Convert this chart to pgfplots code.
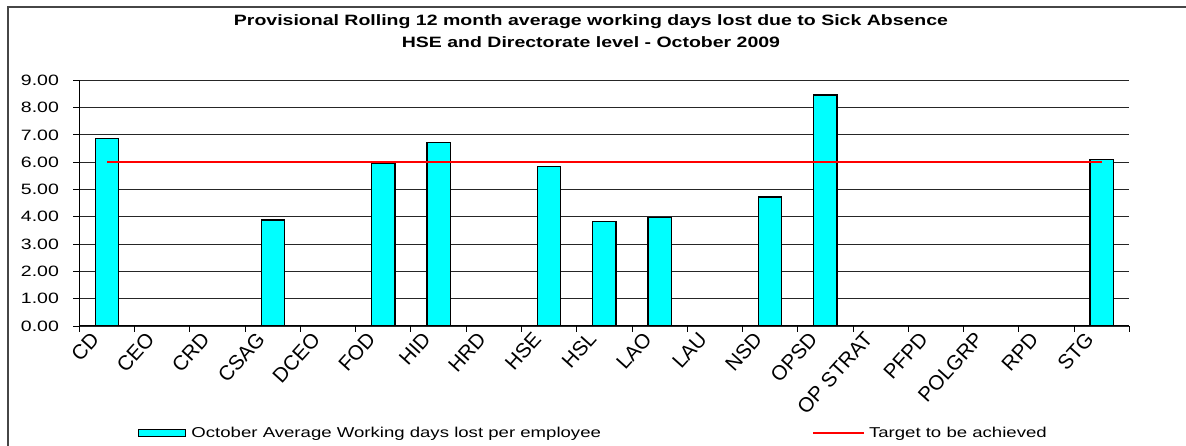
\documentclass[border=0pt]{standalone}
\usepackage{fontspec}
\setmainfont{Liberation Sans}
\usepackage{graphicx}
\usepackage{pgfplots}
\pgfplotsset{compat=1.18}
\definecolor{barcyan}{RGB}{0,255,255}
\definecolor{framegray}{RGB}{70,70,70}
\newcommand{\wide}[1]{\scalebox{1.3}[1]{#1}}
\pgfplotsset{
  barlegend/.style={legend image code/.code={\draw[##1] (0pt,-3.5pt) rectangle (47pt,3.5pt); \path (50pt,0pt);}},
  linelegend/.style={legend image code/.code={\draw[##1] (0pt,0pt) -- (51pt,0pt); \path (53pt,0pt);}},
}
\begin{document}
\begin{tikzpicture}[x=1pt,y=1pt]
\begin{axis}[
  at={(79.4pt,120pt)}, anchor=south west,
  scale only axis, width=1049.9pt, height=245.7pt,
  xmin=0, xmax=19, ymin=0, ymax=9,
  axis x line=bottom, axis y line=left,
  axis line style={-, black, line width=1pt},
  /pgf/number format/assume math mode=true,
  ytick={0,1,...,9},
  yticklabel={\wide{\pgfmathprintnumber[fixed,fixed zerofill,precision=2]{\tick}}},
  ymajorgrids, grid style={black!85, line width=0.9pt},
  xtick={0,1,...,19},
  xticklabels={CD,CEO,CRD,CSAG,DCEO,FOD,HID,HRD,HSE,HSL,LAO,LAU,NSD,OPSD,OP STRAT,PFPD,POLGRP,RPD,STG,{}},
  tick align=outside, major tick length=6pt,
  tick style={black, line width=0.9pt},
  xticklabel style={rotate=48, anchor=east, inner sep=1pt, xshift=9pt, yshift=-14pt, font=\fontsize{20.5}{20.5}\selectfont},
  yticklabel style={xshift=-11pt, font=\fontsize{15}{15}\selectfont},
  legend columns=2,
  legend style={draw=none, fill=none, inner sep=0pt, at={(0.0558,-0.4355)}, anchor=west,
    font=\fontsize{14.3}{14}\selectfont,
    /tikz/every even column/.append style={column sep=209pt}},
  legend cell align=left,
]
\addplot[ybar, bar width=0.42, fill=barcyan, draw=black, line width=1.3pt, barlegend]
  coordinates {(0.5,6.87)(3.5,3.88)(5.5,5.97)(6.5,6.73)(8.5,5.84)(9.5,3.82)(10.5,3.98)(12.5,4.73)(13.5,8.46)(18.5,6.11)};
\addplot[red, line width=2pt, mark=none, linelegend]
  coordinates {(0.5,6)(1.5,6)(2.5,6)(3.5,6)(4.5,6)(5.5,6)(6.5,6)(7.5,6)(8.5,6)(9.5,6)(10.5,6)(11.5,6)(12.5,6)(13.5,6)(14.5,6)(15.5,6)(16.5,6)(17.5,6)(18.5,6)};
\legend{\wide{October Average Working days lost per employee}, \wide{Target to be achieved}}
\end{axis}
\node[font=\bfseries\fontsize{15}{20}\selectfont] at (591,424)
  {\wide{Provisional Rolling 12 month average working days lost due to Sick Absence}};
\node[font=\bfseries\fontsize{15}{20}\selectfont] at (591,404)
  {\wide{HSE and Directorate level - October 2009}};
\draw[framegray, line width=1.8pt] (8,-20) -- (8,439) -- (1200,439);
\pgfresetboundingbox
\path[use as bounding box] (0,0) rectangle (1186,446);
\end{tikzpicture}
\end{document}
